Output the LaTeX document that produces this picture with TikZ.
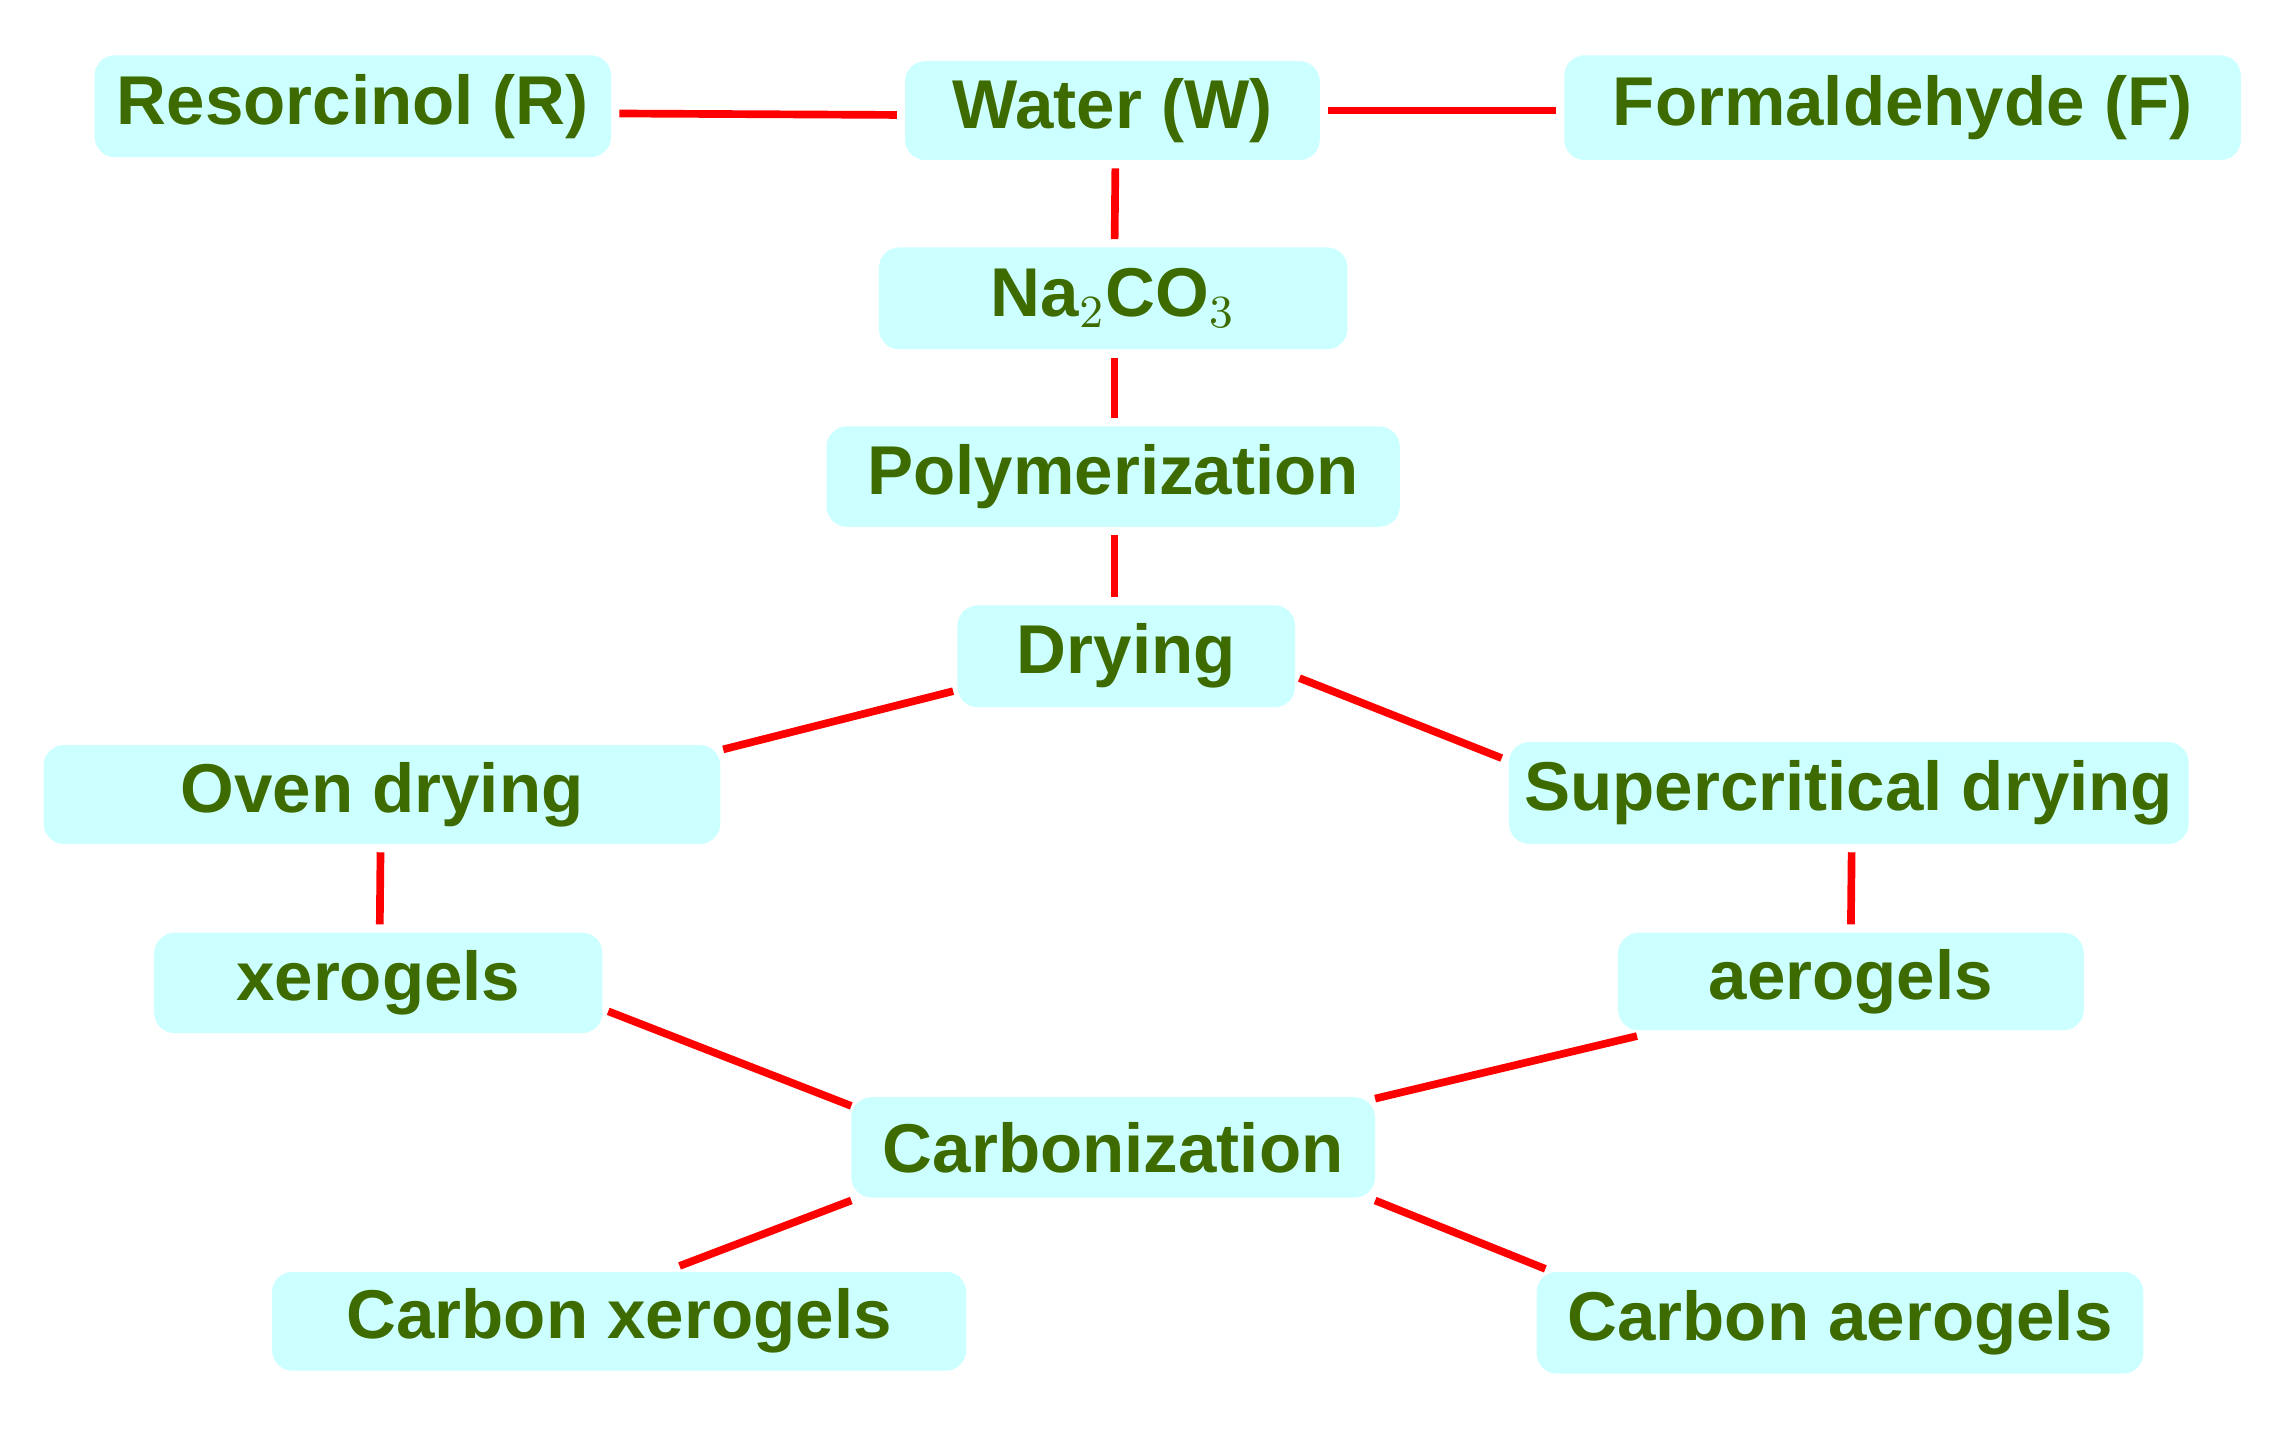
\documentclass[tikz,border=0pt]{standalone}
\usepackage{fontspec}
\setmainfont{Liberation Sans}
\usetikzlibrary{calc}
\definecolor{boxc}{HTML}{CCFFFF}
\definecolor{txtc}{HTML}{3D6B00}
\begin{document}
\begin{tikzpicture}[x=0.01cm,y=-0.01cm,
  bx/.style={fill=boxc,rounded corners=4pt,inner sep=0pt,text=txtc,font=\fontsize{13.5}{16}\selectfont\bfseries},
  ln/.style={red,line width=1.5pt}]
\useasboundingbox (0,0) rectangle (1560,985);
\newcommand{\bx}[6]{\node[bx,minimum width=#4*0.01cm-#2*0.01cm,minimum height=#5*0.01cm-#3*0.01cm] (#1) at ({(#2+#4)/2},{(#3+#5)/2}) {#6};}
\bx{r}{65}{38}{420}{108}{Resorcinol (R)}
\bx{w}{622}{42}{907}{110}{Water (W)}
\bx{f}{1075}{38}{1540}{110}{Formaldehyde (F)}
\bx{na}{604}{170}{926}{240}{Na$_2$CO$_3$}
\bx{p}{568}{293}{962}{362}{Polymerization}
\bx{d}{658}{416}{890}{486}{Drying}
\bx{o}{30}{512}{495}{580}{Oven drying}
\bx{s}{1037}{510}{1504}{580}{Supercritical drying}
\bx{x}{106}{641}{414}{710}{xerogels}
\bx{a}{1112}{641}{1432}{708}{aerogels}
\bx{c}{585}{754}{945}{823}{Carbonization}
\bx{cx}{187}{874}{664}{942}{Carbon xerogels}
\bx{ca}{1056}{874}{1473}{944}{Carbon aerogels}
\draw[ln] ($(r.east)+(5,5)$) -- ($(w.west)+(-5,3)$);
\draw[ln] ($(w.east)+(5,0)$) -- ($(f.west)+(-5,2)$);
\draw[ln] ($(w.south)+(2,5)$) -- ($(na.north)+(1,-5)$);
\draw[ln] ($(na.south)+(1,5)$) -- ($(p.north)+(1,-5)$);
\draw[ln] ($(p.south)+(1,5)$) -- ($(d.north)+(-8,-5)$);
\coordinate (d1) at (655,475); \coordinate (o1) at (497,515);
\draw[ln] (d1) -- (o1);
\coordinate (d2) at (893,466); \coordinate (s1) at (1032,521);
\draw[ln] (d2) -- (s1);
\draw[ln] ($(o.south)+(-1,5)$) -- ($(x.north)+(1,-5)$);
\draw[ln] ($(s.south)+(2,5)$) -- ($(a.north)+(0,-5)$);
\coordinate (x1) at (418,695); \coordinate (c1) at (585,760);
\draw[ln] (x1) -- (c1);
\coordinate (a1) at (1125,712); \coordinate (c2) at (945,755);
\draw[ln] (a1) -- (c2);
\coordinate (c3) at (585,825); \coordinate (cx1) at (467,870);
\draw[ln] (c3) -- (cx1);
\coordinate (c4) at (945,825); \coordinate (ca1) at (1062,872);
\draw[ln] (c4) -- (ca1);
\end{tikzpicture}
\end{document}
